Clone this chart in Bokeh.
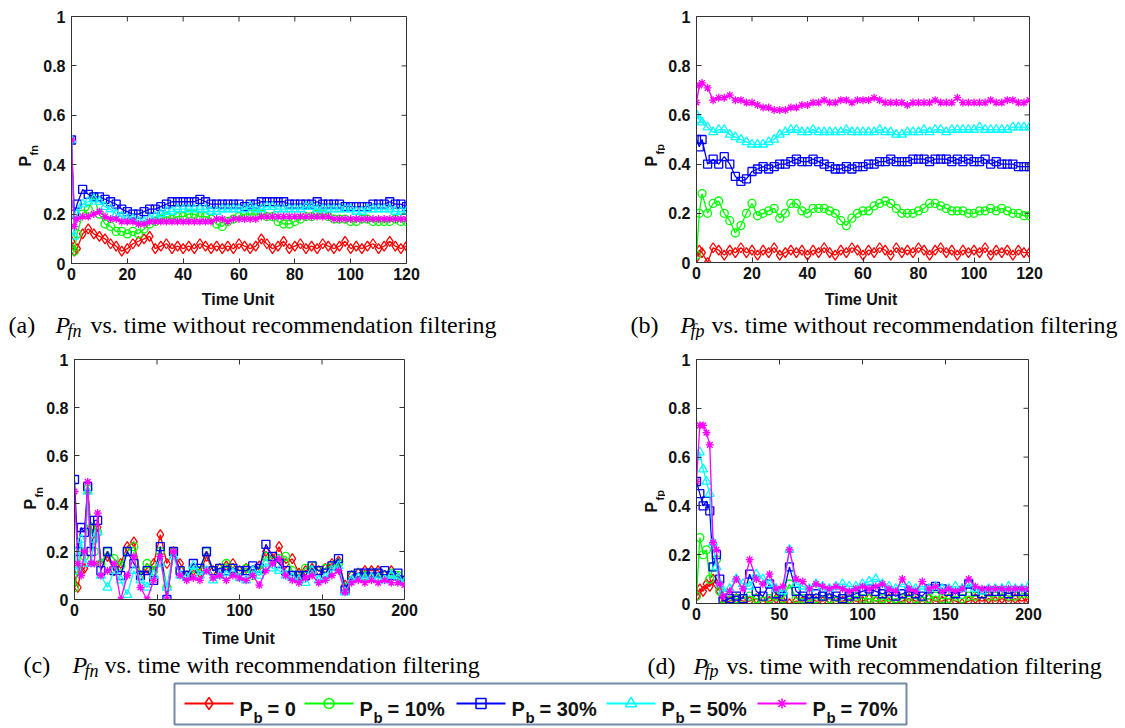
import numpy as np
from bokeh.plotting import figure
from bokeh.models import FixedTicker, Range1d
from bokeh.layouts import column, row
from bokeh.embed import file_html
from bokeh.resources import INLINE
from bokeh.core.properties import value

# ---------------- data ----------------
series_labels = ["0", "10%", "30%", "50%", "70%"]
colors = ["#ff0000", "#00ff00", "#0000ff", "#00ffff", "#ff00ff"]
markers = ["diamond", "circle", "square", "triangle", "asterisk"]
marker_sizes = [10, 8, 8, 9, 8]

y_ticks = [0, 0.2, 0.4, 0.6, 0.8, 1]
y_tick_labels = ["0", "0.2", "0.4", "0.6", "0.8", "1"]
x_ticks_ab = [0, 20, 40, 60, 80, 100, 120]
x_ticks_cd = [0, 50, 100, 150, 200]
x_title = "Time Unit"

time_ab = [0, 1] + list(range(2, 121, 2))
time_cd = list(range(0, 17, 2)) + list(range(20, 201, 4))

# (a) P_fn without recommendation filtering
pfn_nf_0 = [0.09, 0.05, 0.06, 0.12, 0.14, 0.12, 0.11, 0.10, 0.08, 0.07,
            0.05, 0.06, 0.08, 0.09, 0.10, 0.11, 0.06, 0.07, 0.08, 0.06,
            0.07, 0.06, 0.07, 0.06, 0.08, 0.07, 0.06, 0.07, 0.06, 0.07,
            0.06, 0.08, 0.07, 0.06, 0.07, 0.10, 0.08, 0.06, 0.07, 0.09,
            0.06, 0.07, 0.08, 0.06, 0.07, 0.06, 0.08, 0.07, 0.06, 0.07,
            0.09, 0.06, 0.07, 0.06, 0.07, 0.08, 0.06, 0.07, 0.09, 0.07,
            0.06, 0.07]
pfn_nf_10 = [0.06, 0.05, 0.12, 0.20, 0.22, 0.27, 0.20, 0.16, 0.15, 0.13,
             0.13, 0.12, 0.13, 0.12, 0.14, 0.16, 0.17, 0.18, 0.19, 0.18,
             0.19, 0.19, 0.20, 0.20, 0.19, 0.19, 0.18, 0.16, 0.15, 0.17,
             0.18, 0.19, 0.20, 0.20, 0.20, 0.20, 0.19, 0.19, 0.17, 0.16,
             0.16, 0.17, 0.18, 0.19, 0.19, 0.20, 0.20, 0.19, 0.18, 0.18,
             0.18, 0.17, 0.17, 0.18, 0.18, 0.17, 0.17, 0.17, 0.17, 0.18,
             0.17, 0.17]
pfn_nf_30 = [0.50, 0.20, 0.24, 0.30, 0.28, 0.27, 0.27, 0.26, 0.25, 0.24,
             0.22, 0.21, 0.20, 0.20, 0.21, 0.22, 0.22, 0.23, 0.24, 0.25,
             0.25, 0.25, 0.25, 0.25, 0.26, 0.25, 0.24, 0.24, 0.24, 0.24,
             0.24, 0.24, 0.23, 0.24, 0.24, 0.25, 0.25, 0.25, 0.25, 0.25,
             0.24, 0.24, 0.24, 0.24, 0.24, 0.25, 0.24, 0.24, 0.24, 0.24,
             0.23, 0.23, 0.23, 0.23, 0.23, 0.24, 0.24, 0.24, 0.25, 0.24,
             0.24, 0.23]
pfn_nf_50 = [0.50, 0.11, 0.20, 0.24, 0.25, 0.26, 0.25, 0.23, 0.22, 0.20,
             0.19, 0.18, 0.18, 0.17, 0.17, 0.18, 0.19, 0.20, 0.21, 0.21,
             0.22, 0.22, 0.22, 0.22, 0.22, 0.22, 0.21, 0.21, 0.22, 0.22,
             0.22, 0.22, 0.22, 0.23, 0.22, 0.22, 0.23, 0.23, 0.22, 0.22,
             0.22, 0.22, 0.22, 0.23, 0.23, 0.22, 0.22, 0.22, 0.22, 0.22,
             0.22, 0.22, 0.21, 0.21, 0.22, 0.22, 0.22, 0.22, 0.22, 0.21,
             0.21, 0.21]
pfn_nf_70 = [0.50, 0.15, 0.18, 0.19, 0.19, 0.20, 0.21, 0.19, 0.18, 0.18,
             0.17, 0.17, 0.17, 0.16, 0.16, 0.17, 0.17, 0.17, 0.17, 0.17,
             0.17, 0.17, 0.17, 0.17, 0.17, 0.17, 0.17, 0.18, 0.18, 0.17,
             0.18, 0.18, 0.18, 0.18, 0.18, 0.19, 0.19, 0.19, 0.19, 0.19,
             0.19, 0.19, 0.19, 0.19, 0.19, 0.19, 0.19, 0.19, 0.18, 0.18,
             0.18, 0.18, 0.18, 0.18, 0.18, 0.18, 0.18, 0.18, 0.18, 0.18,
             0.18, 0.18]

# (b) P_fp without recommendation filtering
pfp_nf_0 = [0.02, 0.05, 0.04, 0.00, 0.06, 0.05, 0.03, 0.05, 0.04, 0.06,
            0.04, 0.05, 0.03, 0.05, 0.04, 0.06, 0.03, 0.04, 0.05, 0.04,
            0.05, 0.03, 0.05, 0.04, 0.06, 0.04, 0.03, 0.05, 0.04, 0.06,
            0.05, 0.03, 0.05, 0.04, 0.06, 0.05, 0.03, 0.06, 0.04, 0.05,
            0.04, 0.06, 0.05, 0.03, 0.05, 0.06, 0.04, 0.05, 0.03, 0.05,
            0.04, 0.05, 0.04, 0.06, 0.03, 0.05, 0.04, 0.05, 0.03, 0.05,
            0.04, 0.04]
pfp_nf_10 = [0.03, 0.20, 0.28, 0.20, 0.24, 0.25, 0.20, 0.17, 0.12, 0.15,
             0.20, 0.24, 0.19, 0.20, 0.21, 0.22, 0.18, 0.20, 0.24, 0.24,
             0.21, 0.20, 0.22, 0.22, 0.22, 0.21, 0.20, 0.17, 0.15, 0.18,
             0.20, 0.21, 0.21, 0.23, 0.24, 0.25, 0.24, 0.22, 0.20, 0.20,
             0.20, 0.21, 0.22, 0.24, 0.24, 0.23, 0.22, 0.21, 0.21, 0.21,
             0.20, 0.20, 0.21, 0.21, 0.22, 0.21, 0.22, 0.21, 0.20, 0.20,
             0.19, 0.19]
pfp_nf_30 = [0.50, 0.47, 0.50, 0.40, 0.42, 0.40, 0.43, 0.40, 0.35, 0.33,
             0.34, 0.37, 0.38, 0.39, 0.38, 0.39, 0.40, 0.40, 0.41, 0.42,
             0.41, 0.41, 0.42, 0.41, 0.40, 0.39, 0.38, 0.38, 0.39, 0.38,
             0.39, 0.39, 0.40, 0.40, 0.41, 0.41, 0.42, 0.41, 0.41, 0.41,
             0.42, 0.42, 0.42, 0.41, 0.42, 0.42, 0.42, 0.41, 0.42, 0.41,
             0.42, 0.41, 0.41, 0.42, 0.40, 0.41, 0.40, 0.40, 0.40, 0.39,
             0.39, 0.39]
pfp_nf_50 = [0.60, 0.58, 0.57, 0.55, 0.53, 0.54, 0.54, 0.52, 0.51, 0.50,
             0.49, 0.48, 0.48, 0.48, 0.49, 0.50, 0.52, 0.53, 0.54, 0.54,
             0.53, 0.53, 0.54, 0.53, 0.53, 0.53, 0.53, 0.53, 0.54, 0.53,
             0.53, 0.53, 0.53, 0.53, 0.54, 0.53, 0.53, 0.52, 0.52, 0.53,
             0.53, 0.53, 0.54, 0.53, 0.54, 0.54, 0.53, 0.54, 0.54, 0.54,
             0.54, 0.54, 0.55, 0.54, 0.54, 0.54, 0.54, 0.54, 0.55, 0.55,
             0.55, 0.55]
pfp_nf_70 = [0.65, 0.72, 0.73, 0.71, 0.66, 0.67, 0.67, 0.68, 0.66, 0.66,
             0.65, 0.65, 0.64, 0.63, 0.63, 0.62, 0.62, 0.62, 0.63, 0.63,
             0.64, 0.64, 0.65, 0.65, 0.66, 0.65, 0.65, 0.66, 0.66, 0.65,
             0.66, 0.66, 0.66, 0.67, 0.66, 0.65, 0.65, 0.65, 0.65, 0.64,
             0.65, 0.65, 0.65, 0.65, 0.66, 0.65, 0.65, 0.65, 0.67, 0.65,
             0.65, 0.65, 0.65, 0.65, 0.66, 0.65, 0.65, 0.66, 0.66, 0.65,
             0.65, 0.66]

# (c) P_fn with recommendation filtering
pfn_f_0 = [0.10, 0.05, 0.12, 0.13, 0.45, 0.30, 0.25, 0.30, 0.15, 0.18,
           0.12, 0.15, 0.22, 0.24, 0.10, 0.13, 0.15, 0.27, 0.15, 0.20,
           0.15, 0.10, 0.12, 0.11, 0.18, 0.12, 0.13, 0.14, 0.15, 0.12,
           0.13, 0.12, 0.14, 0.20, 0.17, 0.22, 0.15, 0.17, 0.11, 0.12,
           0.13, 0.12, 0.13, 0.15, 0.16, 0.06, 0.10, 0.11, 0.12, 0.12,
           0.12, 0.10, 0.12, 0.09, 0.08]
pfn_f_10 = [0.05, 0.12, 0.20, 0.18, 0.46, 0.30, 0.20, 0.28, 0.15, 0.20,
            0.17, 0.14, 0.20, 0.22, 0.10, 0.15, 0.12, 0.20, 0.05, 0.20,
            0.12, 0.10, 0.13, 0.12, 0.20, 0.12, 0.13, 0.15, 0.13, 0.12,
            0.13, 0.10, 0.12, 0.18, 0.16, 0.17, 0.18, 0.12, 0.10, 0.13,
            0.14, 0.12, 0.13, 0.14, 0.15, 0.05, 0.10, 0.11, 0.10, 0.11,
            0.11, 0.10, 0.11, 0.10, 0.08]
pfn_f_30 = [0.50, 0.20, 0.30, 0.28, 0.47, 0.20, 0.33, 0.33, 0.12, 0.20,
            0.12, 0.10, 0.20, 0.15, 0.10, 0.12, 0.08, 0.22, 0.00, 0.20,
            0.12, 0.10, 0.15, 0.13, 0.20, 0.12, 0.13, 0.12, 0.13, 0.12,
            0.12, 0.14, 0.13, 0.23, 0.18, 0.15, 0.12, 0.10, 0.10, 0.10,
            0.14, 0.12, 0.11, 0.14, 0.17, 0.04, 0.10, 0.11, 0.11, 0.11,
            0.11, 0.12, 0.10, 0.11, 0.08]
pfn_f_50 = [0.20, 0.12, 0.25, 0.15, 0.45, 0.15, 0.25, 0.28, 0.10, 0.05,
            0.12, 0.08, 0.02, 0.12, 0.08, 0.05, 0.10, 0.15, 0.05, 0.18,
            0.10, 0.09, 0.14, 0.10, 0.12, 0.08, 0.10, 0.10, 0.11, 0.09,
            0.08, 0.12, 0.10, 0.15, 0.13, 0.12, 0.10, 0.09, 0.08, 0.07,
            0.12, 0.08, 0.09, 0.12, 0.14, 0.03, 0.08, 0.09, 0.09, 0.09,
            0.09, 0.08, 0.10, 0.09, 0.07]
pfn_f_70 = [0.45, 0.15, 0.10, 0.20, 0.49, 0.15, 0.15, 0.36, 0.10, 0.12,
            0.15, 0.00, 0.10, 0.18, 0.05, 0.00, 0.08, 0.18, 0.00, 0.20,
            0.10, 0.08, 0.09, 0.08, 0.12, 0.09, 0.10, 0.08, 0.10, 0.09,
            0.08, 0.10, 0.06, 0.12, 0.15, 0.17, 0.10, 0.08, 0.07, 0.09,
            0.10, 0.07, 0.08, 0.10, 0.12, 0.03, 0.07, 0.08, 0.07, 0.08,
            0.07, 0.08, 0.07, 0.07, 0.06]

# (d) P_fp with recommendation filtering
pfp_f_0 = [0.03, 0.06, 0.05, 0.08, 0.07, 0.10, 0.08, 0.05, 0.00, 0.01,
           0.02, 0.01, 0.01, 0.02, 0.01, 0.01, 0.02, 0.01, 0.00, 0.01,
           0.01, 0.02, 0.01, 0.01, 0.02, 0.01, 0.01, 0.02, 0.01, 0.01,
           0.02, 0.01, 0.01, 0.02, 0.00, 0.01, 0.02, 0.01, 0.01, 0.02,
           0.01, 0.01, 0.02, 0.01, 0.00, 0.01, 0.02, 0.01, 0.02, 0.01,
           0.02, 0.01, 0.02, 0.01, 0.02]
pfp_f_10 = [0.03, 0.27, 0.20, 0.22, 0.10, 0.15, 0.18, 0.05, 0.02, 0.03,
            0.02, 0.02, 0.03, 0.02, 0.01, 0.02, 0.03, 0.02, 0.08, 0.02,
            0.02, 0.01, 0.02, 0.03, 0.02, 0.01, 0.02, 0.02, 0.03, 0.02,
            0.02, 0.01, 0.02, 0.01, 0.02, 0.02, 0.03, 0.02, 0.01, 0.02,
            0.03, 0.02, 0.02, 0.03, 0.02, 0.03, 0.03, 0.04, 0.03, 0.03,
            0.04, 0.03, 0.03, 0.04, 0.04]
pfp_f_30 = [0.50, 0.45, 0.40, 0.42, 0.38, 0.15, 0.20, 0.10, 0.01, 0.02,
            0.03, 0.02, 0.12, 0.05, 0.03, 0.08, 0.04, 0.03, 0.15, 0.05,
            0.03, 0.02, 0.04, 0.03, 0.04, 0.03, 0.02, 0.03, 0.04, 0.05,
            0.06, 0.05, 0.04, 0.05, 0.03, 0.04, 0.05, 0.04, 0.03, 0.06,
            0.07, 0.06, 0.05, 0.04, 0.05, 0.08, 0.05, 0.04, 0.05, 0.05,
            0.05, 0.04, 0.05, 0.05, 0.05]
pfp_f_50 = [0.60, 0.62, 0.55, 0.50, 0.45, 0.25, 0.15, 0.08, 0.05, 0.06,
            0.10, 0.08, 0.07, 0.12, 0.10, 0.08, 0.06, 0.05, 0.22, 0.08,
            0.07, 0.06, 0.08, 0.07, 0.06, 0.07, 0.08, 0.07, 0.07, 0.08,
            0.09, 0.10, 0.08, 0.07, 0.06, 0.08, 0.07, 0.06, 0.07, 0.06,
            0.07, 0.06, 0.06, 0.07, 0.06, 0.08, 0.06, 0.05, 0.06, 0.06,
            0.06, 0.07, 0.06, 0.06, 0.07]
pfp_f_70 = [0.50, 0.73, 0.73, 0.70, 0.65, 0.25, 0.22, 0.08, 0.03, 0.05,
            0.10, 0.06, 0.18, 0.10, 0.08, 0.12, 0.06, 0.07, 0.22, 0.10,
            0.09, 0.06, 0.08, 0.07, 0.06, 0.07, 0.06, 0.05, 0.06, 0.07,
            0.06, 0.07, 0.08, 0.06, 0.05, 0.10, 0.06, 0.05, 0.09, 0.06,
            0.07, 0.05, 0.06, 0.05, 0.06, 0.10, 0.07, 0.06, 0.06, 0.06,
            0.06, 0.06, 0.06, 0.06, 0.06]

panel_a = [pfn_nf_0, pfn_nf_10, pfn_nf_30, pfn_nf_50, pfn_nf_70]
panel_b = [pfp_nf_0, pfp_nf_10, pfp_nf_30, pfp_nf_50, pfp_nf_70]
panel_c = [pfn_f_0, pfn_f_10, pfn_f_30, pfn_f_50, pfn_f_70]
panel_d = [pfp_f_0, pfp_f_10, pfp_f_30, pfp_f_50, pfp_f_70]

for arr in panel_a + panel_b:
    assert len(arr) == len(time_ab), len(arr)
for arr in panel_c + panel_d:
    assert len(arr) == len(time_cd), len(arr)

AX = "#333333"
TXT = "#111111"
SANS = "Liberation Sans"
SERIF = "Liberation Serif"
TICK_LEN = 5


def blank(w, h, flip=True):
    """A plain canvas whose data units are pixels."""
    f = figure(frame_width=w, frame_height=h, min_border=0,
               x_range=Range1d(0, w),
               y_range=Range1d(h, 0) if flip else Range1d(0, h),
               output_backend="svg", toolbar_location=None,
               x_axis_location=None, y_axis_location=None,
               background_fill_color="white", border_fill_color="white")
    f.outline_line_color = None
    f.grid.visible = False
    return f


def make_panel(x, ys, x_end, x_ticks, geom):
    left, fw, right, top, fh, bottom = geom
    p = figure(frame_width=fw, frame_height=fh,
               min_border_left=left, min_border_right=right,
               min_border_top=top, min_border_bottom=bottom,
               x_range=Range1d(0, x_end), y_range=Range1d(0, 1),
               output_backend="svg", toolbar_location=None,
               background_fill_color="white", border_fill_color="white")
    p.grid.visible = False
    p.outline_line_color = AX
    p.outline_line_width = 1

    for ys_i, c, m, sz in zip(ys, colors, markers, marker_sizes):
        p.line(x, ys_i, line_color=c, line_width=1.3)
        p.scatter(x, ys_i, marker=m, size=sz, line_color=c,
                  fill_color=None, line_width=1.3)

    # inward ticks on the top and right edges of the box
    dy = TICK_LEN / fh
    dx = TICK_LEN * x_end / fw
    p.segment(x0=x_ticks, y0=[1] * len(x_ticks), x1=x_ticks,
              y1=[1 - dy] * len(x_ticks), line_color=AX, line_width=1)
    p.segment(x0=[x_end] * len(y_ticks), y0=y_ticks, x1=[x_end - dx] * len(y_ticks),
              y1=y_ticks, line_color=AX, line_width=1)

    for ax in (p.xaxis[0], p.yaxis[0]):
        ax.major_tick_in = TICK_LEN
        ax.major_tick_out = 0
        ax.minor_tick_line_color = None
        ax.axis_line_color = AX
        ax.major_tick_line_color = AX
        ax.major_label_text_font = SANS
        ax.major_label_text_font_size = "16px"
        ax.major_label_text_font_style = "bold"
        ax.major_label_text_color = TXT
    p.xaxis.ticker = FixedTicker(ticks=x_ticks)
    p.yaxis.ticker = FixedTicker(ticks=y_ticks)
    p.yaxis.major_label_overrides = {t: l for t, l in zip(y_ticks, y_tick_labels)}
    p.xaxis.major_label_standoff = 4
    p.yaxis.major_label_standoff = 6
    return p


def ylabel_strip(w, h, p_pos, sub, s_pos):
    f = blank(w, h, flip=False)
    f.text([p_pos[0]], [p_pos[1]], text=["P"], angle=np.pi / 2,
           text_font=value(SANS), text_font_size="16px", text_font_style="bold",
           text_color=TXT, text_baseline="alphabetic", text_align="left")
    f.text([s_pos[0]], [s_pos[1]], text=[sub], angle=np.pi / 2,
           text_font=value(SANS), text_font_size="11px", text_font_style="bold",
           text_color=TXT, text_baseline="alphabetic", text_align="left")
    return f


def add_caption(f, tag, sub, rest, xs, base, sbase, title_pos):
    tx, px, sx, vx = xs
    f.text([title_pos[0]], [title_pos[1]], text=[x_title], text_font=value(SANS),
           text_font_size="16px", text_font_style="bold", text_color=TXT,
           text_baseline="alphabetic", text_align="center")
    f.text([tx], [base], text=[tag], text_font=value(SERIF), text_font_size="24px",
           text_color="black", text_baseline="alphabetic")
    f.text([px], [base], text=["P"], text_font=value(SERIF), text_font_size="24px",
           text_font_style="italic", text_color="black", text_baseline="alphabetic")
    f.text([sx], [sbase], text=[sub], text_font=value(SERIF), text_font_size="18px",
           text_font_style="italic", text_color="black", text_baseline="alphabetic")
    f.text([vx], [base], text=[rest], text_font=value(SERIF), text_font_size="24px",
           text_color="black", text_baseline="alphabetic")


# ---------------- top row (y 0-285) ----------------
fa = make_panel(time_ab, panel_a, 120, x_ticks_ab, (30, 335, 225, 15, 247, 23))
fb = make_panel(time_ab, panel_b, 120, x_ticks_ab, (30, 333, 98, 16, 246, 23))
yl_a = ylabel_strip(40, 285, (25, 135), "fn", (33, 146))
yl_b = ylabel_strip(34, 285, (20, 135), "fp", (28, 147))

# strip y 285-340: axis titles + captions
cap_top = blank(1125, 55)
add_caption(cap_top, "(a)", "fn", "vs. time without recommendation filtering",
            (8, 55, 67, 90), 39, 45, (237.5, 14))
add_caption(cap_top, "(b)", "fp", "vs. time without recommendation filtering",
            (630, 680, 690, 711), 39, 45, (860.5, 14))

# ---------------- bottom row (y 340-625) ----------------
fc = make_panel(time_cd, panel_c, 200, x_ticks_cd, (30, 330, 227, 19, 240, 26))
fd = make_panel(time_cd, panel_d, 200, x_ticks_cd, (30, 332, 99, 19, 244, 22))
yl_c = ylabel_strip(43, 285, (30, 135), "fn", (38, 147))
yl_d = ylabel_strip(34, 285, (20, 132), "fp", (28, 144))

# strip y 625-680
cap_bot = blank(1125, 55)
add_caption(cap_bot, "(c)", "fn", "vs. time with recommendation filtering",
            (23, 72, 84, 104), 39, 45, (238, 13))
add_caption(cap_bot, "(d)", "fp", "vs. time with recommendation filtering",
            (647, 693, 704, 726), 40, 45, (860, 17))

# ---------------- legend strip (y 680-728) ----------------
leg = blank(1125, 48)
leg.quad(left=[174], right=[906], top=[3], bottom=[44], fill_color="white",
         line_color="#7389ab", line_width=2)
legend_x0 = [184, 304, 456, 606, 757]
for x0, c, m, sz, lab in zip(legend_x0, colors, markers, marker_sizes, series_labels):
    leg.segment(x0=[x0], y0=[23], x1=[x0 + 49], y1=[23], line_color=c, line_width=2)
    leg.scatter([x0 + 24.5], [23], marker=m, size=sz + 2, line_color=c,
                fill_color=None, line_width=1.5)
    leg.text([x0 + 55], [28], text=["P"], text_font=value(SANS), text_font_size="20px",
             text_font_style="bold", text_color=TXT, text_baseline="alphabetic")
    leg.text([x0 + 69], [37], text=["b"], text_font=value(SANS), text_font_size="15px",
             text_font_style="bold", text_color=TXT, text_baseline="alphabetic")
    leg.text([x0 + 83], [28], text=["= " + lab], text_font=value(SANS),
             text_font_size="20px", text_font_style="bold", text_color=TXT,
             text_baseline="alphabetic")

layout = column(row(yl_a, fa, yl_b, fb), cap_top,
                row(yl_c, fc, yl_d, fd), cap_bot, leg)
open("out.html", "w").write(file_html(layout, INLINE))
